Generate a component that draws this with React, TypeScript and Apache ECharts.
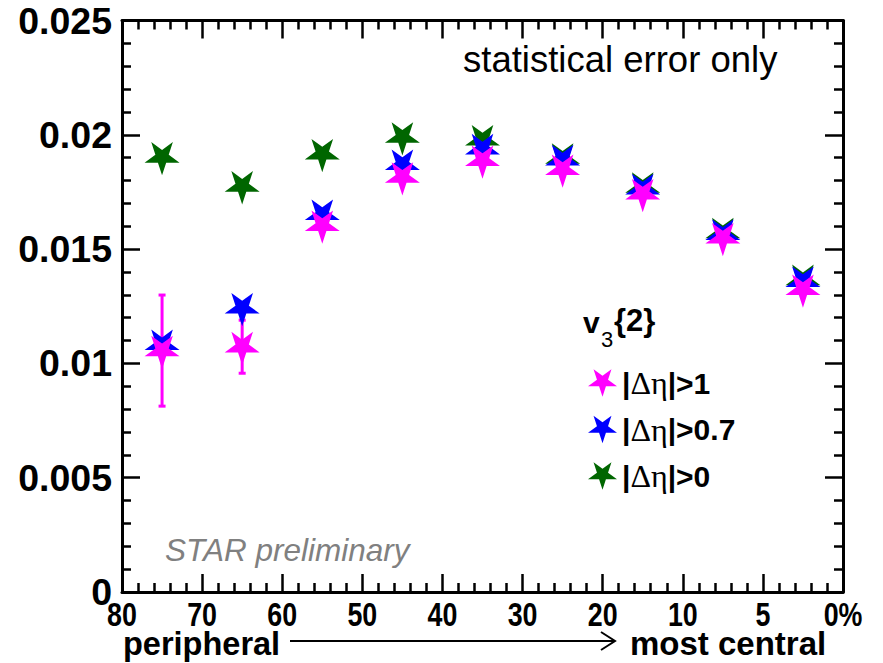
import React, { useEffect, useRef } from "react";
import * as echarts from "echarts";

// Centrality bins (index axis 0..9), labelled at bin edges
const centralityLabels = ["80", "70", "60", "50", "40", "30", "20", "10", "5", "0%"];
const binCenters = [0.5, 1.5, 2.5, 3.5, 4.5, 5.5, 6.5, 7.5, 8.5];

// v3{2} for three pseudo-rapidity gaps
const v3Gap1 = [0.01056, 0.01073, 0.01604, 0.01815, 0.01888, 0.01849, 0.01742, 0.01549, 0.01324];
const v3Gap1Err = [0.00243, 0.00116, 0, 0, 0, 0, 0, 0, 0];
const v3Gap07 = [0.01083, 0.01243, 0.01652, 0.01871, 0.01939, 0.01891, 0.01764, 0.01565, 0.01359];
const v3Gap0 = [0.01903, 0.01776, 0.01917, 0.0199, 0.01978, 0.01898, 0.01771, 0.01572, 0.01367];

const seriesNames = ["|Δη|>1", "|Δη|>0.7", "|Δη|>0"];
const seriesColors = ["#ff00ff", "#0000ff", "#006600"];

// inverted five-point star (one point down)
const STAR =
  "path://M0,100 L-22.45,30.9 L-95.11,30.9 L-36.33,-11.8 L-58.78,-80.9 L0,-38.2 L58.78,-80.9 L36.33,-11.8 L95.11,30.9 L22.45,30.9 Z";
const STAR_R = 18.4;
const starSize = [1.902 * STAR_R, 1.809 * STAR_R];
const starOffset = [0, 0.0955 * STAR_R];

const FONT = "'Liberation Sans', Arial, Helvetica, sans-serif";
const SERIF = "'Liberation Serif', 'DejaVu Serif', serif";

function pairs(values: number[]) {
  return binCenters.map((x, i) => [x, values[i]]);
}

export default function App() {
  const ref = useRef<HTMLDivElement>(null);

  useEffect(() => {
    if (!ref.current) return;
    const chart = echarts.init(ref.current, undefined, { renderer: "svg" });

    const tickStyle = { color: "#000", width: 2.5 };
    const xAxisBase = {
      type: "value" as const,
      min: 0,
      max: 9,
      interval: 1,
      axisLine: { show: true, onZero: false, lineStyle: { color: "#000", width: 3 } },
      axisTick: { show: true, inside: true, length: 18, lineStyle: tickStyle },
      minorTick: { show: true, splitNumber: 5, length: 9, lineStyle: tickStyle },
      splitLine: { show: false },
      minorSplitLine: { show: false },
      axisLabel: { show: false },
    };
    const yAxisBase = {
      type: "value" as const,
      min: 0,
      max: 0.025,
      interval: 0.005,
      axisLine: { show: true, onZero: false, lineStyle: { color: "#000", width: 3 } },
      axisTick: { show: true, inside: true, length: 18, lineStyle: tickStyle },
      minorTick: { show: true, splitNumber: 5, length: 9, lineStyle: tickStyle },
      splitLine: { show: false },
      minorSplitLine: { show: false },
    };

    const starSeries = (idx: number, values: number[]) => ({
      type: "scatter" as const,
      name: seriesNames[idx],
      data: pairs(values),
      symbol: STAR,
      symbolSize: starSize,
      symbolOffset: starOffset,
      itemStyle: { color: seriesColors[idx], opacity: 1 },
      xAxisIndex: 0,
      yAxisIndex: 0,
    });

    chart.setOption({
      animation: false,
      grid: { left: 122, right: 40, top: 20.5, bottom: 71, containLabel: false },
      xAxis: [
        { ...xAxisBase, position: "bottom" },
        { ...xAxisBase, position: "top" },
      ],
      yAxis: [
        {
          ...yAxisBase,
          position: "left",
          axisLabel: {
            show: true,
            margin: 10,
            fontSize: 37.5,
            fontWeight: "bold",
            fontFamily: FONT,
            color: "#000",
          },
        },
        { ...yAxisBase, position: "right", axisLabel: { show: false } },
      ],
      legend: {
        data: [seriesNames[0], seriesNames[1], seriesNames[2]],
        orient: "vertical",
        left: 583,
        top: 362,
        itemWidth: 29,
        itemHeight: 33,
        itemGap: 14.5,
        icon: STAR,
        selectedMode: false,
        formatter: (name: string) => {
          const tail = name.replace("|Δη|", "");
          return "{b||}{s|Δη}{b||" + tail + "}";
        },
        textStyle: {
          color: "#000",
          fontSize: 30,
          fontWeight: "bold",
          fontFamily: FONT,
          rich: {
            b: { fontSize: 30, fontWeight: "bold", fontFamily: FONT, color: "#000" },
            s: { fontSize: 32, fontWeight: "normal", fontFamily: SERIF, color: "#000" },
          },
        },
      },
      series: [
        starSeries(2, v3Gap0),
        starSeries(1, v3Gap07),
        starSeries(0, v3Gap1),
        {
          type: "custom",
          name: "errors",
          xAxisIndex: 0,
          yAxisIndex: 0,
          data: binCenters.map((x, i) => [x, v3Gap1[i], v3Gap1Err[i]]),
          renderItem: (_params: any, api: any) => {
            const x = api.value(0);
            const y = api.value(1);
            const e = api.value(2);
            if (!e) return { type: "group", children: [] };
            const top = api.coord([x, y + e]);
            const bot = api.coord([x, y - e]);
            const cap = 3.5;
            const style = { stroke: seriesColors[0], lineWidth: 3 };
            return {
              type: "group",
              children: [
                { type: "line", shape: { x1: top[0], y1: top[1], x2: bot[0], y2: bot[1] }, style },
                { type: "line", shape: { x1: top[0] - cap, y1: top[1], x2: top[0] + cap, y2: top[1] }, style },
                { type: "line", shape: { x1: bot[0] - cap, y1: bot[1], x2: bot[0] + cap, y2: bot[1] }, style },
              ],
            };
          },
        },
      ],
    });

    // condensed bold centrality labels placed at the axis ticks
    const xLabels = centralityLabels.map((lab, i) => ({
      type: "text",
      x: chart.convertToPixel({ xAxisIndex: 0 }, i) as number,
      y: 597,
      scaleX: 0.8,
      style: {
        text: lab,
        align: "center",
        verticalAlign: "top",
        fontSize: 33.5,
        fontWeight: "bold",
        fontFamily: FONT,
        fill: "#000",
      },
    }));

    chart.setOption({
      graphic: [
        {
          type: "text",
          left: 463,
          top: 41,
          style: { text: "statistical error only", fontSize: 36.5, fontFamily: FONT, fill: "#000" },
        },
        {
          type: "text",
          left: 165,
          top: 534,
          style: {
            text: "STAR preliminary",
            fontSize: 31.5,
            fontStyle: "italic",
            fontFamily: FONT,
            fill: "#808080",
          },
        },
        {
          type: "text",
          x: 583,
          y: 307,
          style: { text: "v", fontSize: 30, fontWeight: "bold", fontFamily: FONT, fill: "#000", verticalAlign: "top" },
        },
        {
          type: "text",
          x: 601,
          y: 328,
          style: { text: "3", fontSize: 22, fontWeight: "normal", fontFamily: FONT, fill: "#000", verticalAlign: "top" },
        },
        {
          type: "text",
          x: 614,
          y: 305,
          style: { text: "{2}", fontSize: 31, fontWeight: "bold", fontFamily: FONT, fill: "#000", verticalAlign: "top" },
        },
        {
          type: "text",
          x: 123,
          y: 627,
          style: { text: "peripheral", fontSize: 32.5, fontWeight: "bold", fontFamily: FONT, fill: "#000", verticalAlign: "top" },
        },
        {
          type: "text",
          x: 630,
          y: 627,
          style: { text: "most central", fontSize: 33, fontWeight: "bold", fontFamily: FONT, fill: "#000", verticalAlign: "top" },
        },
        {
          type: "line",
          shape: { x1: 290, y1: 641, x2: 614, y2: 641 },
          style: { stroke: "#000", lineWidth: 2 },
        },
        {
          type: "polyline",
          shape: { points: [[601, 632], [615, 641], [601, 650]] },
          style: { stroke: "#000", lineWidth: 2, fill: null },
        },
        ...xLabels,
      ],
    });

    return () => chart.dispose();
  }, []);

  return (
    <div
      ref={ref}
      style={{ position: "absolute", left: 0, top: 0, width: 883, height: 663, background: "#fff" }}
    />
  );
}
